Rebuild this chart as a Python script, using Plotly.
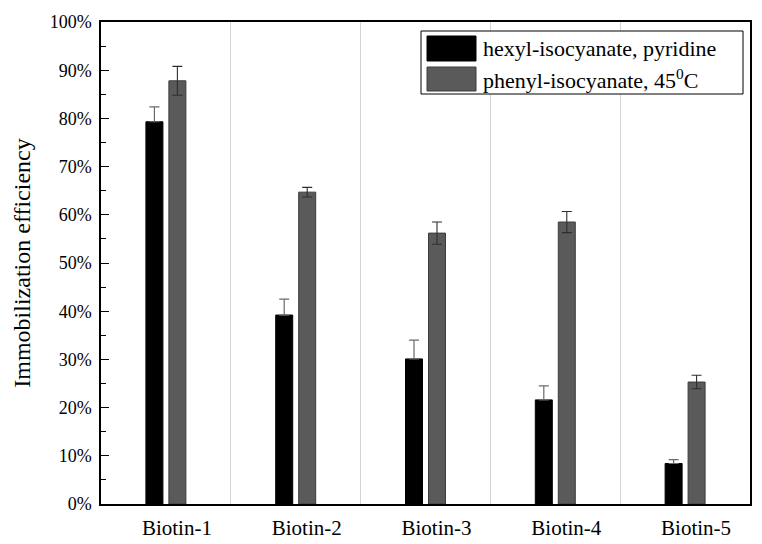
import plotly.graph_objects as go

categories = ["Biotin-1", "Biotin-2", "Biotin-3", "Biotin-4", "Biotin-5"]
hexyl_vals = [0.793, 0.392, 0.301, 0.216, 0.084]
hexyl_err = [0.031, 0.033, 0.039, 0.029, 0.008]
phenyl_vals = [0.878, 0.647, 0.562, 0.585, 0.253]
phenyl_err = [0.030, 0.010, 0.023, 0.022, 0.014]
series_names = ["hexyl-isocyanate, pyridine", "phenyl-isocyanate, 45<sup>0</sup>C"]
y_ticks = [0, 0.1, 0.2, 0.3, 0.4, 0.5, 0.6, 0.7, 0.8, 0.9, 1.0]

FONT = "Liberation Serif"
colors = ["#000000", "#5a5a5a"]
borders = ["#000000", "#3c3c3c"]

fig = go.Figure()
# black bars hide the lower half of their error bars in the reference
fig.add_trace(go.Bar(
    x=categories, y=hexyl_vals, name=series_names[0],
    marker=dict(color=colors[0], line=dict(color=borders[0], width=1)),
    error_y=dict(type="data", symmetric=False, array=hexyl_err,
                 arrayminus=[0] * len(hexyl_err), visible=True,
                 color="#6a6a6a", thickness=1.2, width=5),
    showlegend=False,
))
fig.add_trace(go.Bar(
    x=categories, y=phenyl_vals, name=series_names[1],
    marker=dict(color=colors[1], line=dict(color=borders[1], width=1)),
    error_y=dict(type="data", array=phenyl_err, visible=True,
                 color="#2e2e2e", thickness=1.1, width=5),
    showlegend=False,
))

# page body has an 8px margin; figure sized so the plot area lands where the reference's does
OFF = 8
W, H = 762 - OFF, 544 - OFF
PL, PR, PT, PB = 101, 750, 22, 504   # plot area in screen pixels
L, R, T, B = PL - OFF, 762 - PR, PT - OFF, 544 - PB

def px(x):
    return (x - PL) / (PR - PL)

def py(y):
    return (PB - y) / (PB - PT)

shapes = [
    dict(type="rect", xref="paper", yref="paper",
         x0=px(421), x1=px(743), y0=py(94), y1=py(31),
         line=dict(color="#000", width=1), fillcolor="white", layer="above"),
    dict(type="rect", xref="paper", yref="paper",
         x0=px(427), x1=px(476), y0=py(61), y1=py(36),
         line=dict(color="#000", width=1), fillcolor=colors[0], layer="above"),
    dict(type="rect", xref="paper", yref="paper",
         x0=px(427), x1=px(476), y0=py(91), y1=py(67),
         line=dict(color=borders[1], width=1), fillcolor=colors[1], layer="above"),
]
annotations = [
    dict(xref="paper", yref="paper", x=px(481), y=py(48.5), text=series_names[0],
         showarrow=False, xanchor="left", yanchor="middle",
         font=dict(family=FONT, size=22, color="#000")),
    dict(xref="paper", yref="paper", x=px(481), y=py(79), text=series_names[1],
         showarrow=False, xanchor="left", yanchor="middle",
         font=dict(family=FONT, size=22, color="#000")),
]

fig.update_layout(
    width=W, height=H,
    margin=dict(l=L, r=R, t=T, b=B, autoexpand=False),
    paper_bgcolor="white", plot_bgcolor="white",
    barmode="group", bargap=0.646, bargroupgap=0.26,
    font=dict(family=FONT, color="#000"),
    shapes=shapes, annotations=annotations,
    showlegend=False,
)
fig.update_xaxes(
    type="category", tickson="boundaries", ticks="",
    showgrid=True, gridcolor="#d4d4d4", gridwidth=1,
    showline=True, linecolor="#000", linewidth=1.5, mirror=True,
    tickfont=dict(family=FONT, size=21), ticklabelshift=11,
    ticklabelstandoff=4, range=[-0.5, 4.5], automargin=False,
)
fig.update_yaxes(
    range=[0, 1], tickvals=y_ticks, tickformat=".0%",
    ticks="inside", ticklen=8, tickwidth=1.2, tickcolor="#000",
    minor=dict(ticks="inside", ticklen=5, dtick=0.05, tickwidth=1.2, tickcolor="#000", showgrid=False),
    showgrid=False, zeroline=False,
    showline=True, linecolor="#000", linewidth=1.5, mirror=True,
    tickfont=dict(family=FONT, size=18), ticklabelstandoff=4,
    title=dict(text="Immobilization efficiency", font=dict(family=FONT, size=24), standoff=12),
    automargin=False,
)

fig.write_html("out.html")
